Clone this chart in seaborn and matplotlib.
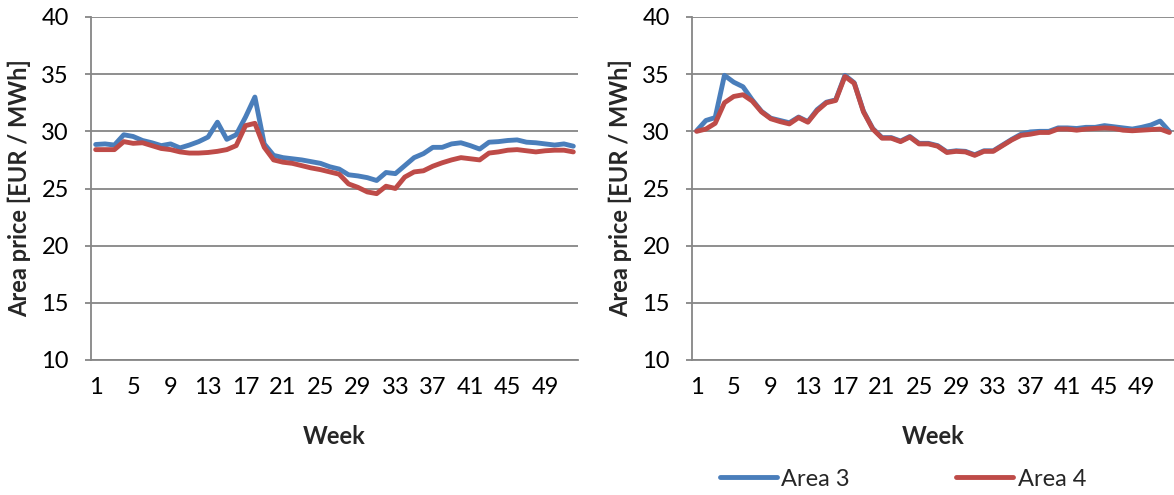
import numpy as np
import pandas as pd
import seaborn as sns
import matplotlib
matplotlib.use("Agg")
import matplotlib.pyplot as plt

weeks = list(range(1, 53))

# Left panel
left_area3 = [28.85, 28.9, 28.8, 29.7, 29.55, 29.2, 29.0, 28.75, 28.9, 28.55,
              28.8, 29.1, 29.5, 30.8, 29.3, 29.7, 31.25, 33.0, 28.9, 27.9,
              27.7, 27.6, 27.5, 27.35, 27.2, 26.9, 26.7, 26.2, 26.1, 25.95,
              25.7, 26.4, 26.3, 27.0, 27.7, 28.05, 28.6, 28.6, 28.9, 29.0,
              28.75, 28.45, 29.05, 29.1, 29.2, 29.25, 29.05, 29.0, 28.9, 28.8,
              28.9, 28.7]
left_area4 = [28.4, 28.4, 28.4, 29.1, 28.95, 29.0, 28.75, 28.5, 28.4, 28.2,
              28.1, 28.1, 28.15, 28.25, 28.4, 28.75, 30.5, 30.7, 28.6, 27.5,
              27.3, 27.2, 27.0, 26.8, 26.65, 26.45, 26.25, 25.4, 25.1, 24.7,
              24.55, 25.2, 25.0, 26.0, 26.45, 26.55, 26.95, 27.25, 27.5, 27.7,
              27.6, 27.5, 28.1, 28.2, 28.35, 28.4, 28.3, 28.2, 28.3, 28.35,
              28.35, 28.2]

# Right panel
right_area3 = [30.05, 30.95, 31.2, 34.9, 34.3, 33.9, 32.75, 31.75, 31.15, 30.95,
               30.75, 31.25, 30.85, 31.9, 32.55, 32.75, 34.9, 34.25, 31.75, 30.25,
               29.45, 29.45, 29.15, 29.55, 28.95, 28.95, 28.75, 28.2, 28.3, 28.25,
               27.95, 28.3, 28.3, 28.8, 29.3, 29.75, 29.95, 30.0, 30.0, 30.3,
               30.3, 30.25, 30.35, 30.35, 30.5, 30.4, 30.3, 30.2, 30.35, 30.55,
               30.9, 30.0]
right_area4 = [30.0, 30.2, 30.7, 32.5, 33.05, 33.2, 32.65, 31.7, 31.1, 30.85,
               30.65, 31.2, 30.8, 31.8, 32.5, 32.7, 34.8, 34.2, 31.7, 30.2,
               29.4, 29.4, 29.1, 29.5, 28.9, 28.9, 28.7, 28.15, 28.25, 28.2,
               27.9, 28.25, 28.25, 28.75, 29.25, 29.65, 29.75, 29.9, 29.9, 30.2,
               30.2, 30.1, 30.2, 30.25, 30.3, 30.25, 30.1, 30.05, 30.1, 30.15,
               30.2, 29.9]

series_names = ["Area 3", "Area 4"]
week_ticks = list(range(1, 53, 4))
price_ticks = [10, 15, 20, 25, 30, 35, 40]

palette = {"Area 3": "#4A7EBB", "Area 4": "#BE4B48"}
grid_color = "#868686"
font_size = 17

sns.set_theme(style="white")
plt.rcParams["font.family"] = ["Lato", "DejaVu Sans"]


def long_frame(a3, a4):
    return pd.DataFrame({
        "Week": weeks * 2,
        "Price": a3 + a4,
        "Area": [series_names[0]] * len(weeks) + [series_names[1]] * len(weeks),
    })


fig = plt.figure(figsize=(11.74, 4.95), dpi=100)
W, H = 1174, 495
ax_left = fig.add_axes([91 / W, 1 - 360 / H, 487 / W, 343 / H])
ax_right = fig.add_axes([692 / W, 1 - 360 / H, 482 / W, 343 / H])

for ax, a3, a4 in [(ax_left, left_area3, left_area4),
                   (ax_right, right_area3, right_area4)]:
    sns.lineplot(data=long_frame(a3, a4), x="Week", y="Price", hue="Area",
                 palette=palette, linewidth=3.5, ax=ax, legend=False,
                 solid_capstyle="round", solid_joinstyle="round")
    ax.set_xlim(0.5, 52.5)
    ax.set_ylim(10, 40)
    ax.set_xticks(week_ticks)
    ax.set_yticks(price_ticks)
    ax.grid(axis="y", color=grid_color, linewidth=1.3)
    ax.set_axisbelow(True)
    for side in ["top", "right"]:
        ax.spines[side].set_visible(False)
    for side in ["left", "bottom"]:
        ax.spines[side].set_color(grid_color)
        ax.spines[side].set_linewidth(1.3)
    ax.tick_params(axis="y", left=True, length=4, width=1.3, color=grid_color,
                   pad=12, labelsize=font_size, labelcolor="black")
    ax.tick_params(axis="x", bottom=False, length=0, pad=12, labelsize=font_size,
                   labelcolor="black")
    ax.set_xlabel("Week", fontsize=font_size, fontweight="bold", labelpad=20)
    ax.set_ylabel("Area price [EUR / MWh]", fontsize=font_size,
                  fontweight="bold", labelpad=7)

handles = [plt.Line2D([0], [0], color=palette[n], linewidth=3.5) for n in series_names]
fig.legend(handles, series_names, loc="center", ncol=2,
           bbox_to_anchor=(903 / W, 1 - 479 / H), frameon=False,
           fontsize=font_size, handlelength=2.4, handletextpad=0.2,
           columnspacing=4.5)

fig.savefig("out.png", dpi=100, facecolor="white")
